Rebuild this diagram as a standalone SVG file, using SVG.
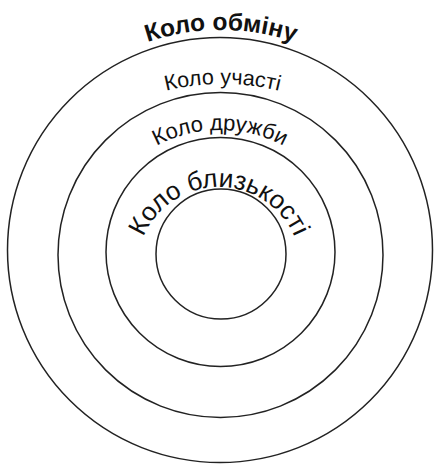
<svg xmlns="http://www.w3.org/2000/svg" width="434" height="464" viewBox="0 0 434 464">
<style>
.ring{fill:none;stroke:#222;stroke-width:1.5}
.lbl{font-family:"Liberation Sans",Arial,sans-serif;fill:#111;text-anchor:middle}
.bold{font-weight:bold}
</style>
<defs>
<path id="p1" d="M 101 63.8 A 230 230 0 0 1 341 63.8"/>
<path id="p2" d="M 112.5 111.3 A 235 235 0 0 1 332.5 111.3"/>
<path id="p3" d="M 100 203.2 A 135 135 0 0 1 340 203.2"/>
<path id="p4" d="M 148 310 A 82 82 0 1 1 290 310"/>
</defs>
<rect width="434" height="464" fill="#fff"/>
<g id="exchange">
<circle class="ring" cx="220" cy="250" r="212.5"/>
<text class="lbl bold" font-size="24.5"><textPath href="#p1" startOffset="50%">Коло обміну</textPath></text>
</g>
<g id="participation">
<circle class="ring" cx="220.5" cy="255" r="162.5"/>
<text class="lbl" font-size="21.5"><textPath href="#p2" startOffset="50%">Коло участі</textPath></text>
</g>
<g id="friendship">
<circle class="ring" cx="220.5" cy="252" r="114.5"/>
<text class="lbl" font-size="22"><textPath href="#p3" startOffset="50%">Коло дружби</textPath></text>
</g>
<g id="closeness">
<circle class="ring" cx="221" cy="254" r="65"/>
<text class="lbl" font-size="26"><textPath href="#p4" startOffset="50%">Коло близькості</textPath></text>
</g>
</svg>
